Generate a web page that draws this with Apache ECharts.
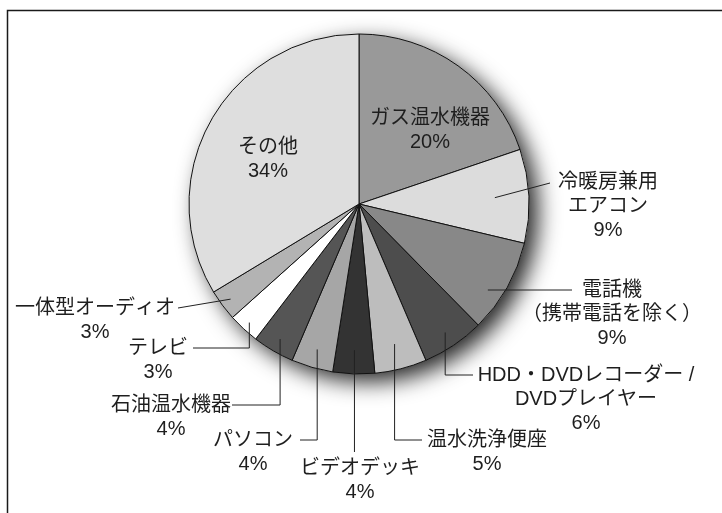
<!DOCTYPE html>
<html lang="ja">
<head>
<meta charset="utf-8">
<title>家庭の機器別待機時消費電力量の内訳</title>
<script src="https://cdn.jsdelivr.net/npm/echarts@6/dist/echarts.min.js"></script>
<style>
  html, body { margin: 0; padding: 0; background: #fff; }
  #chart { width: 722px; height: 513px; }
</style>
</head>
<body>
<div id="chart"></div>
<script>
// Categories and their shares (%), clockwise from 12 o'clock
const categories = [
  'ガス温水機器',
  '冷暖房兼用\nエアコン',
  '電話機\n（携帯電話を除く）',
  'HDD・DVDレコーダー /\nDVDプレイヤー',
  '温水洗浄便座',
  'ビデオデッキ',
  'パソコン',
  '石油温水機器',
  'テレビ',
  '一体型オーディオ',
  'その他'
];
const shares = [20, 9, 9, 6, 5, 4, 4, 4, 3, 3, 34];

// Slice fills (grey scale)
const sliceColors = [
  '#999999', '#dcdcdc', '#888888', '#4d4d4d', '#bdbdbd',
  '#333333', '#a6a6a6', '#555555', '#ffffff', '#b3b3b3', '#dedede'
];

// Pie geometry
const CX = 359, CY = 204, R = 170;
const LINE_H = 24;

// Label placement: cx = text centre, cy = centre of first text line.
// line: 'none' (label sits on slice), 'straight' or 'elbow' (down/up, then across)
// k = how deep inside the slice the leader line starts (fraction of radius)
const labelPlacement = [
  { cx: 430, cy: 118, line: 'none' },
  { cx: 608, cy: 182, line: 'straight', ex: 550, ey: 183, k: 0.80 },
  { cx: 612, cy: 290, line: 'straight', ex: 572, ey: 290, k: 0.87, flatStart: true },
  { cx: 586, cy: 375, line: 'elbow', ex: 473, k: 0.91 },
  { cx: 487, cy: 440, line: 'elbow', ex: 422, k: 0.85 },
  { cx: 360, cy: 468, line: 'elbow', ex: null, ey: 452, k: 0.86 },
  { cx: 253, cy: 440, line: 'elbow', ex: 300, k: 0.89 },
  { cx: 171, cy: 405, line: 'elbow', ex: 232, k: 0.92 },
  { cx: 158, cy: 348, line: 'elbow', ex: 193, k: 0.95 },
  { cx: 95,  cy: 308, line: 'straight', ex: 178, ey: 308, k: 0.94 },
  { cx: 268, cy: 147, line: 'none' }
];

// Mid angle of every slice, degrees clockwise from 12 o'clock
const total = shares.reduce((a, b) => a + b, 0);
const midAngles = [];
{
  let acc = 0;
  shares.forEach(v => {
    midAngles.push((acc + v / 2) / total * 360);
    acc += v;
  });
}

function anchorPoint(i) {
  const p = labelPlacement[i];
  const a = midAngles[i] * Math.PI / 180;
  const r = R * p.k;
  return [CX + r * Math.sin(a), CY - r * Math.cos(a)];
}

const pieBase = {
  type: 'pie',
  center: [CX, CY],
  radius: [0, R],
  startAngle: 90,
  clockwise: true,
  avoidLabelOverlap: false,
  emphasis: { disabled: true }
};

const chart = echarts.init(document.getElementById('chart'), null, { renderer: 'canvas' });

chart.setOption({
  backgroundColor: '#ffffff',
  animation: false,
  graphic: [{
    type: 'rect',
    silent: true,
    shape: { x: 7.5, y: 10.5, width: 900, height: 700 },
    style: { fill: 'none', stroke: '#1a1a1a', lineWidth: 1.5 },
    z: 0
  }],
  series: [
    {
      // soft drop shadow behind the pie
      type: 'pie',
      silent: true,
      z: 1,
      center: [CX, CY],
      radius: [0, R],
      label: { show: false },
      labelLine: { show: false },
      data: [{ value: 1, itemStyle: { color: '#ffffff' } }],
      itemStyle: {
        shadowBlur: 22,
        shadowOffsetX: 9,
        shadowOffsetY: 8,
        shadowColor: 'rgba(0,0,0,0.85)'
      }
    },
    Object.assign({}, pieBase, {
      // filled slices
      z: 2,
      itemStyle: { borderColor: '#111111', borderWidth: 1 },
      label: { show: false },
      labelLine: { show: false },
      data: categories.map((name, i) => ({
        name: name,
        value: shares[i],
        itemStyle: { color: sliceColors[i] }
      }))
    }),
    Object.assign({}, pieBase, {
      // labels and leader lines, laid over the slices
      z: 3,
      silent: true,
      itemStyle: { color: 'rgba(0,0,0,0)', borderWidth: 0 },
      label: {
        show: true,
        position: 'outside',
        formatter: '{b}\n{c}%',
        color: '#1e1e1e',
        fontSize: 20,
        lineHeight: LINE_H,
        fontFamily: '"Liberation Sans", "Noto Sans CJK JP", sans-serif',
        align: 'center'
      },
      labelLine: {
        show: true,
        lineStyle: { color: '#222222', width: 1 }
      },
      labelLayout: function (params) {
        const i = params.dataIndex;
        const p = labelPlacement[i];
        const out = {
          x: p.cx,
          y: p.cy - LINE_H / 2,
          align: 'center',
          verticalAlign: 'top'
        };
        if (p.line === 'none') return out;
        const s = anchorPoint(i);
        if (p.flatStart) s[1] = p.ey;
        let pts;
        if (p.line === 'straight') {
          pts = [s, [p.ex, p.ey], [p.ex, p.ey]];
        } else if (p.ex == null) {
          pts = [s, [s[0], p.ey], [s[0], p.ey]];
        } else {
          pts = [s, [s[0], p.cy], [p.ex, p.cy]];
        }
        out.labelLinePoints = pts;
        return out;
      },
      data: categories.map((name, i) => ({
        name: name,
        value: shares[i],
        labelLine: { show: labelPlacement[i].line !== 'none' }
      }))
    })
  ]
});
</script>
</body>
</html>
